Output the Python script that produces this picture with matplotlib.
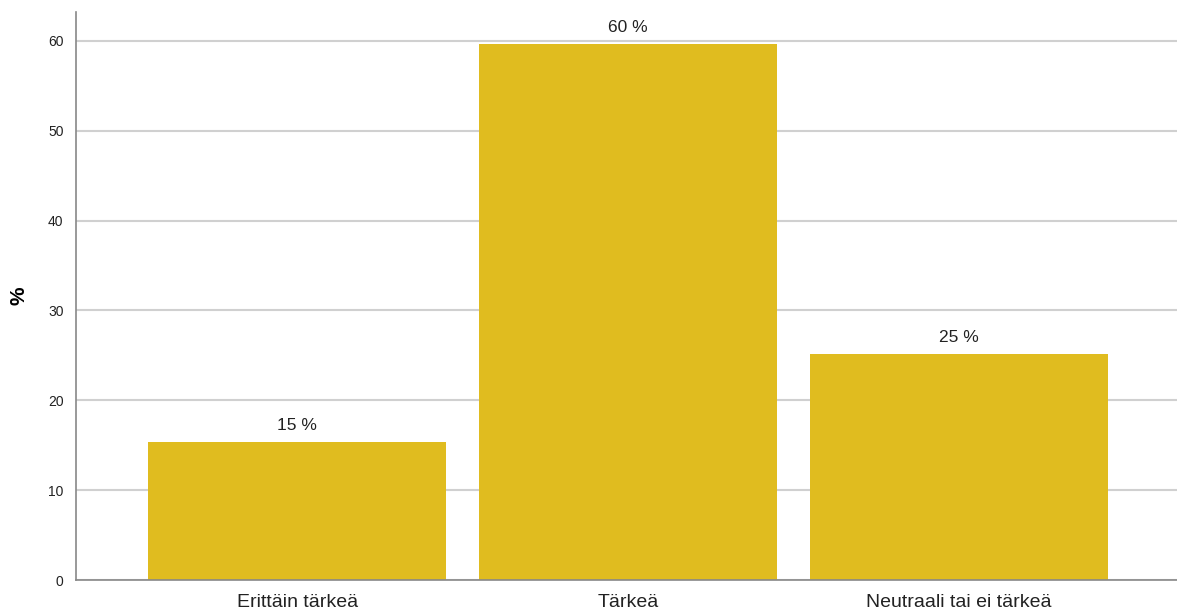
import numpy as np
import matplotlib.pyplot as plt
import matplotlib as mpl

mpl.rcParams['font.family'] = ['Liberation Sans', 'DejaVu Sans']

categories = ["Erittäin tärkeä", "Tärkeä", "Neutraali tai ei tärkeä"]
values = [15.4, 59.6, 25.1]
labels = ["15 %", "60 %", "25 %"]
yticks = [0, 10, 20, 30, 40, 50, 60]

fig = plt.figure(figsize=(11.77, 6.15), dpi=100)
ax = fig.add_axes((0.0646, 0.0569, 0.9354, 0.9236))

x = np.arange(len(categories))
bars = ax.bar(x, values, width=0.9, color="#E0BC1F", zorder=2)
for b, lab in zip(bars, labels):
  ax.text(b.get_x() + b.get_width() / 2, b.get_height() + 1.0, lab,
          ha='center', va='bottom', fontsize=12.5, color='#222222')

ax.set_xlim(-0.668, 2.659)
ax.set_ylim(0, 63.2)
ax.set_yticks(yticks)
ax.set_xticks(x)
ax.set_xticklabels(categories, fontsize=14, color='#222222')
ax.tick_params(axis='y', labelsize=10, length=0, pad=9, colors='#222222')
ax.tick_params(axis='x', length=0, pad=10)
ax.yaxis.grid(True, color='#d0d0d0', lw=1.5, zorder=0)
ax.set_axisbelow(True)
for s in ['top', 'right']:
  ax.spines[s].set_visible(False)
for s in ['left', 'bottom']:
  ax.spines[s].set_color('#888888')
  ax.spines[s].set_linewidth(1.2)
ax.set_ylabel("%", fontsize=15, fontweight='bold', labelpad=14)

plt.savefig("out.png", dpi=100)
